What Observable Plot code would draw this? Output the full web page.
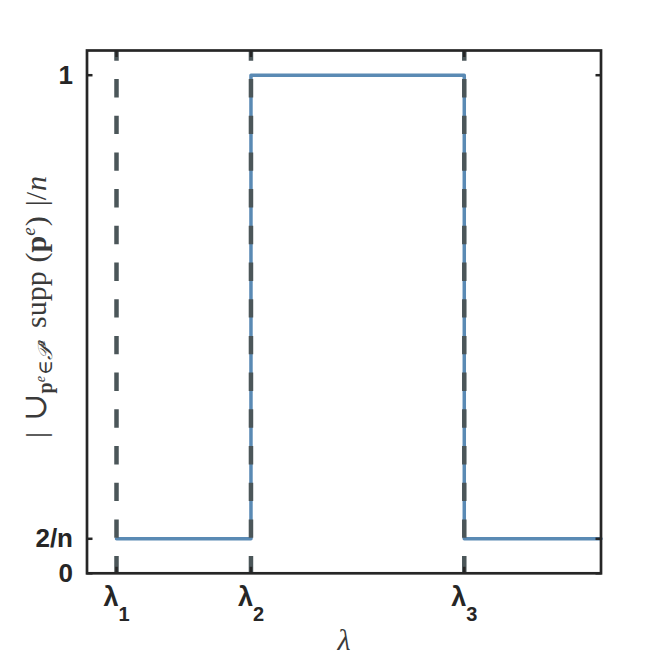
<!DOCTYPE html>
<html><head><meta charset="utf-8">
<script src="https://cdn.jsdelivr.net/npm/d3@7"></script>
<script src="https://cdn.jsdelivr.net/npm/@observablehq/plot@0.6"></script>
<style>body{margin:0;background:#fff}</style>
</head><body><div id="chart"></div>
<script>
// data
const lambdaNames = ["1", "2", "3"];
const lambdaValues = [0.0574, 0.319, 0.734];
const stepX = [0.0574, 0.319, 0.734, 1.0];
const stepY = [0.0693, 1, 0.0693, 0.0693];
const yTickValues = [0, 0.0693, 1];
const yTickLabels = ["0", "2/n", "1"];

const steps = stepX.map((x, i) => ({x, y: stepY[i]}));
const ink = "#262626";
const tickFont = "'Liberation Sans', Arial, sans-serif";

const plot = Plot.plot({
  width: 664, height: 664,
  marginLeft: 86.5, marginRight: 63.5, marginTop: 50, marginBottom: 91.2,
  x: {domain: [0, 1]},
  y: {domain: [0, 1.0496]},
  style: {background: "#fff", color: ink, fontFamily: tickFont},
  marks: [
    Plot.line(steps, {x: "x", y: "y", curve: "step-after", stroke: "#5a8ab4", strokeWidth: 3.5, strokeLinejoin: "round"}),
    Plot.ruleX(lambdaValues, {stroke: "#4b5659", strokeWidth: 4.5, strokeDasharray: "18.4,18.3", strokeDashoffset: 7.7}),
    Plot.axisY({ticks: yTickValues, anchor: "left", tickSize: -6, strokeWidth: 2.5, stroke: ink, fill: "none", label: null}),
    Plot.axisY({ticks: yTickValues, anchor: "right", tickSize: -6, strokeWidth: 2.5, stroke: ink, fill: "none", label: null}),
    Plot.axisY({ticks: yTickValues, anchor: "left", tickSize: 0, tickPadding: 14, fontSize: 26, fontWeight: "bold", fill: ink,
      tickFormat: d => yTickLabels[yTickValues.indexOf(d)], label: null}),
    Plot.axisX({ticks: lambdaValues, anchor: "bottom", tickSize: -6, strokeWidth: 2.5, stroke: ink, fill: "none", label: null}),
    Plot.axisX({ticks: lambdaValues, anchor: "top", tickSize: -6, strokeWidth: 2.5, stroke: ink, fill: "none", label: null}),
    Plot.axisX({ticks: lambdaValues, anchor: "bottom", tickSize: 0, tickPadding: 14, fontSize: 27, fontWeight: "bold", fill: ink,
      tickFormat: d => "λ" + lambdaNames[lambdaValues.indexOf(d)], label: null}),
    Plot.frame({stroke: ink, strokeWidth: 2.7})
  ]
});

const svg = d3.select(plot);
// subscripts on λ tick labels
svg.selectAll('g[aria-label="x-axis tick label"] text').each(function() {
  const s = this.textContent;
  this.textContent = "λ";
  d3.select(this).append("tspan").attr("dy", 14.7).attr("font-size", 20).text(s.slice(1));
});

// rotated y label
function richText(sel, parts) {
  let prev = 0;
  for (const p of parts) {
    const sh = p.shift || 0;
    const t = sel.append("tspan").text(p.t).attr("dy", sh - prev);
    prev = sh;
    if (p.size) t.attr("font-size", p.size);
    if (p.bold) t.attr("font-weight", "bold");
    if (p.italic) t.attr("font-style", "italic");
    if (p.dx) t.attr("dx", p.dx);
  }
}
const yl = svg.append("text")
  .attr("transform", "translate(46,307) rotate(-90)")
  .attr("text-anchor", "middle")
  .attr("font-family", "'Liberation Serif', 'DejaVu Serif', serif")
  .attr("font-size", 30).attr("fill", "#3a3a3a");
richText(yl, [
  {t: "|"},
  {t: "∪", size: 33, dx: 11},
  {t: "p", size: 20, bold: true, shift: 6},
  {t: "e", size: 14, italic: true, shift: -1},
  {t: "∈", size: 20, shift: 6, dx: 1},
  {t: "𝒫", size: 20, italic: true, shift: 6},
  {t: "e", size: 14, italic: true, shift: -1},
  {t: "supp", shift: 0, dx: 12},
  {t: "(", shift: 0, dx: 9},
  {t: "p", bold: true, shift: 0},
  {t: "e", size: 19, italic: true, shift: -11},
  {t: ")", shift: 0, dx: 1},
  {t: "|/", shift: 0, dx: 10},
  {t: "n", italic: true, shift: 0, dx: 1}
]);

// x label
svg.append("text")
  .attr("x", 344).attr("y", 650)
  .attr("text-anchor", "middle")
  .attr("font-family", "'Liberation Serif', 'DejaVu Serif', serif")
  .attr("font-style", "italic")
  .attr("font-size", 30).attr("fill", "#3a3a3a")
  .text("λ");

document.getElementById("chart").appendChild(plot);
</script>
</body></html>
